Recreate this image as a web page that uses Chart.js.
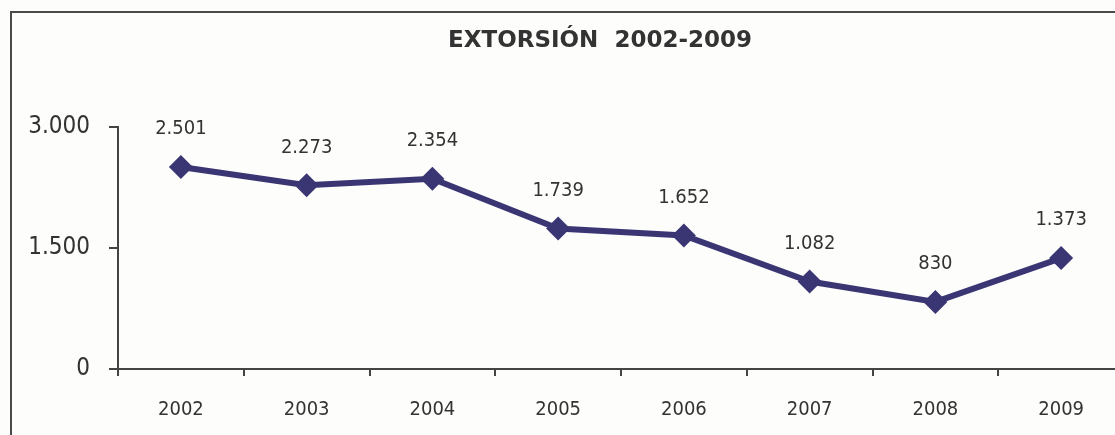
<!DOCTYPE html>
<html>
<head>
<meta charset="utf-8">
<script src="https://cdn.jsdelivr.net/npm/chart.js@4"></script>
<style>
  html, body { margin: 0; padding: 0; background: #fdfdfb; overflow: hidden; }
  #marco { position: absolute; left: 10px; top: 11px; width: 1200px; height: 500px; border: 2px solid #4a4a4a; }
  #lienzo { position: absolute; left: 0; top: 0; width: 1200px; height: 435px; }
</style>
</head>
<body>
<div id="marco"></div>
<div id="lienzo"><canvas id="grafica" width="1200" height="435"></canvas></div>
<script>
const anios = ['2002', '2003', '2004', '2005', '2006', '2007', '2008', '2009'];
const extorsiones = [2501, 2273, 2354, 1739, 1652, 1082, 830, 1373];
const marcasY = [0, 1500, 3000];

const fuente = '"DejaVu Sans Condensed", "DejaVu Sans", sans-serif';

function formatoMiles(v) {
  return v.toString().replace(/\B(?=(\d{3})+(?!\d))/g, '.');
}

// etiquetas de valor encima de cada punto
const etiquetas = {
  id: 'etiquetas',
  afterDatasetsDraw(chart) {
    const ctx = chart.ctx;
    const meta = chart.getDatasetMeta(0);
    ctx.save();
    ctx.font = '20px ' + fuente;
    ctx.fillStyle = '#333';
    ctx.textAlign = 'center';
    ctx.textBaseline = 'middle';
    meta.data.forEach((p, i) => {
      ctx.fillText(formatoMiles(extorsiones[i]), p.x, p.y - 38);
    });
    ctx.restore();
  }
};

new Chart(document.getElementById('grafica'), {
  type: 'line',
  data: {
    labels: anios,
    datasets: [{
      data: extorsiones,
      borderColor: '#3a3673',
      backgroundColor: '#3a3673',
      borderWidth: 6,
      tension: 0,
      pointStyle: 'rectRot',
      pointRadius: 12,
      pointBorderWidth: 0
    }]
  },
  options: {
    responsive: false,
    animation: false,
    layout: { padding: { left: 12, right: 12, top: 0, bottom: 0 } },
    plugins: {
      legend: { display: false },
      tooltip: { enabled: false },
      title: {
        display: true,
        text: 'EXTORSIÓN  2002-2009',
        color: '#333',
        font: { family: '"DejaVu Sans", sans-serif', size: 23, weight: 'bold' },
        padding: { top: 27, bottom: 72 }
      }
    },
    scales: {
      x: {
        offset: true,
        grid: { offset: true, drawOnChartArea: false, tickLength: 7, color: '#444', lineWidth: 2 },
        border: { color: '#444', width: 2 },
        ticks: { color: '#333', padding: 22, font: { family: fuente, size: 20 } },
        afterFit(s) { s.height = 66; }
      },
      y: {
        min: 0,
        max: 3000,
        afterBuildTicks(s) { s.ticks = marcasY.map(v => ({ value: v })); },
        grid: { drawOnChartArea: false, tickLength: 9, color: '#444', lineWidth: 2 },
        border: { color: '#444', width: 2 },
        ticks: {
          color: '#333',
          padding: 19,
          font: { family: fuente, size: 24 },
          callback: v => formatoMiles(v)
        },
        afterFit(s) { s.width = 106; }
      },
      // eje vacío a la derecha: solo reserva sitio para centrar el título
      y2: {
        position: 'right',
        grid: { display: false },
        border: { display: false },
        ticks: { display: false },
        afterFit(s) { s.width = 64; }
      }
    }
  },
  plugins: [etiquetas]
});
</script>
</body>
</html>
